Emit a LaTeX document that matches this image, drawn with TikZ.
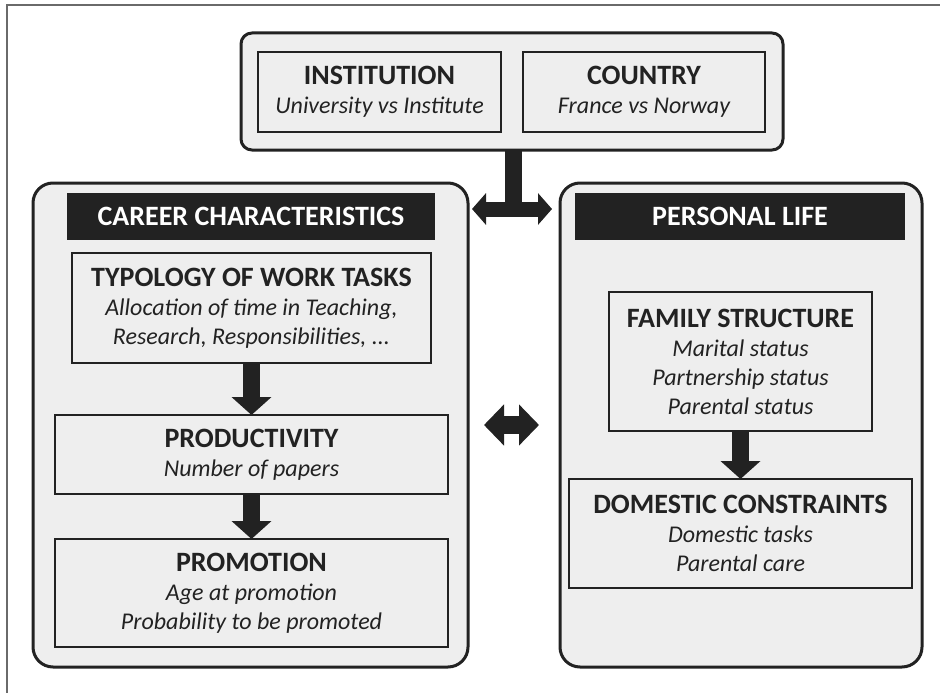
\documentclass[tikz,border=0pt]{standalone}
\usepackage{fontspec}
\setmainfont{Carlito}
\usetikzlibrary{arrows.meta,calc}
\definecolor{boxfill}{HTML}{EEEEEE}
\definecolor{ink}{HTML}{222222}
\definecolor{framecol}{HTML}{6A6A6A}
\newcommand{\hd}[1]{{\fontsize{28}{30}\selectfont\bfseries\upshape #1}}
\tikzset{
  outerbox/.style={draw=ink, fill=boxfill, line width=3pt, rounded corners=20pt, inner sep=0pt, outer sep=0pt},
  topbox/.style={draw=ink, fill=boxfill, line width=3pt, rounded corners=11pt, inner sep=0pt, outer sep=0pt},
  inbox/.style={draw=ink, fill=boxfill, line width=1.4pt, inner sep=0pt, outer sep=0pt, align=center, text=ink,
    font=\fontsize{24}{29}\selectfont\itshape},
  banner/.style={fill=ink, text=white, inner sep=0pt, outer sep=0pt, font=\fontsize{28}{30}\selectfont\bfseries},
  fatdown/.style={draw=ink, line width=17pt, -{Triangle[width=39pt,length=18pt]}},
  fatline/.style={draw=ink, line width=17pt},
  fatboth/.style={draw=ink, line width=15pt, {Triangle[width=31pt,length=14pt]}-{Triangle[width=31pt,length=14pt]}},
  fatboth2/.style={draw=ink, line width=18pt, {Triangle[width=40pt,length=20pt]}-{Triangle[width=40pt,length=20pt]}}
}
\begin{document}
\begin{tikzpicture}[x=1pt,y=-1pt]
\useasboundingbox (0,0) rectangle (940,693);
\fill[white] (0,0) rectangle (940,693);
% frame
\draw[framecol, line width=1.5pt] (7,693) -- (7,5) -- (940,5);

% top box
\node[topbox, minimum width=542pt, minimum height=117pt] (top) at (512,91.5) {};
\node[inbox, minimum width=243pt, minimum height=80pt] (inst) at (379.5,92) {\hd{INSTITUTION}\\University vs Institute};
\node[inbox, minimum width=242pt, minimum height=80pt] (ctry) at (644,92) {\hd{COUNTRY}\\France vs Norway};

% big boxes
\node[outerbox, minimum width=435pt, minimum height=484pt] (career) at (250.5,425) {};
\node[outerbox, minimum width=362pt, minimum height=484pt] (personal) at (741,425) {};

\node[banner, minimum width=368pt, minimum height=47pt] (cban) at (251,216.5) {CAREER CHARACTERISTICS};
\node[banner, minimum width=330pt, minimum height=47pt] (pban) at (740,216.5) {PERSONAL LIFE};

\node[inbox, minimum width=359pt, minimum height=110pt] (typ) at (251.5,308) {\hd{TYPOLOGY OF WORK TASKS}\\Allocation of time in Teaching,\\Research, Responsibilities, ...};
\node[inbox, minimum width=393pt, minimum height=79pt] (prod) at (251.5,454.5) {\hd{PRODUCTIVITY}\\Number of papers};
\node[inbox, minimum width=393pt, minimum height=108pt] (prom) at (251.5,593) {\hd{PROMOTION}\\Age at promotion\\Probability to be promoted};

\node[inbox, minimum width=263pt, minimum height=139pt] (fam) at (740.5,361.5) {\hd{FAMILY STRUCTURE}\\Marital status\\Partnership status\\Parental status};
\node[inbox, minimum width=343pt, minimum height=109pt] (dom) at (740.5,533.5) {\hd{DOMESTIC CONSTRAINTS}\\Domestic tasks\\Parental care};

% arrows
\draw[fatdown] (typ.south) -- (prod.north);
\draw[fatdown] (prod.south) -- (prom.north);
\draw[fatdown] (fam.south) -- (dom.north);

\coordinate (tee) at (513,209);
\draw[fatline] (top.south -| tee) -- (tee);
\draw[fatboth, shorten <=4pt, shorten >=8pt] (career.east |- tee) -- (personal.west |- tee);
\draw[fatboth2, shorten <=16pt, shorten >=21pt] (career.east) -- (personal.west);
\end{tikzpicture}
\end{document}
